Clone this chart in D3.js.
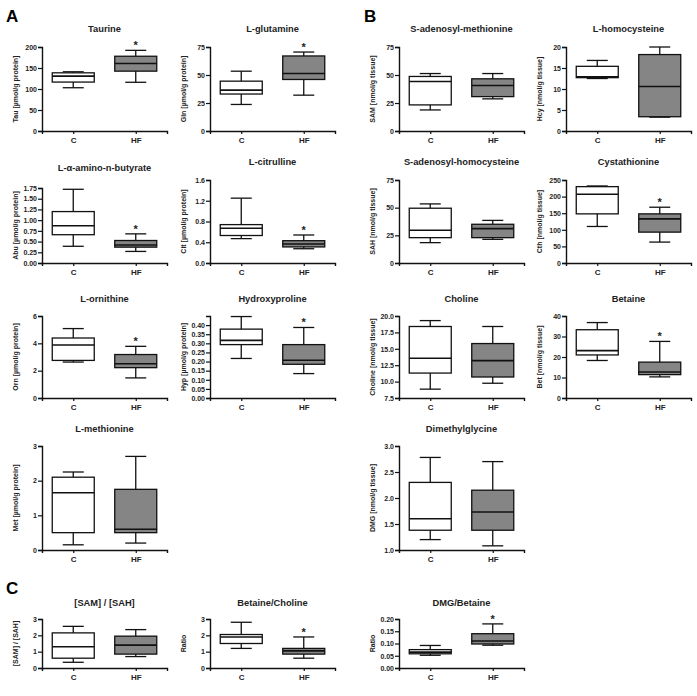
<!DOCTYPE html>
<html>
<head>
<meta charset="utf-8">
<script src="https://cdn.jsdelivr.net/npm/d3@7"></script>
<style>
  body { margin: 0; background: #fff; }
  svg text { font-family: "Liberation Sans", Arial, sans-serif; font-weight: bold; fill: #222; }
</style>
</head>
<body>
<div id="plot"></div>
<script>
// groups on every x axis
const groups = ["C", "HF"];

// panel titles and y-axis labels
const titles = ["Taurine", "L-glutamine", "S-adenosyl-methionine", "L-homocysteine",
  "L-\u03b1-amino-n-butyrate", "L-citrulline", "S-adenosyl-homocysteine", "Cystathionine",
  "L-ornithine", "Hydroxyproline", "Choline", "Betaine",
  "L-methionine", "Dimethylglycine",
  "[SAM] / [SAH]", "Betaine/Choline", "DMG/Betaine"];
const yLabels = ["Tau [\u00b5mol/g protein]", "Gln [\u00b5mol/g protein]", "SAM [nmol/g tissue]", "Hcy [nmol/g tissue]",
  "Abu [\u00b5mol/g protein]", "Cit [\u00b5mol/g protein]", "SAH [nmol/g tissue]", "Cth [nmol/g tissue]",
  "Orn [\u00b5mol/g protein]", "Hyp [\u00b5mol/g protein]", "Choline [nmol/g tissue]", "Bet [nmol/g tissue]",
  "Met [\u00b5mol/g protein]", "DMG [nmol/g tissue]",
  "[SAM] / [SAH]", "Ratio", "Ratio"];

// y domains and tick labels
const yDomains = [[0, 200], [0, 75], [0, 75], [0, 20],
  [0, 1.75], [0, 1.6], [0, 75], [0, 250],
  [0, 6], [0, 0.45], [7.5, 20], [0, 40],
  [0, 3], [1, 3],
  [0, 3], [0, 3], [0, 0.2]];
const yTicks = [[0, 50, 100, 150, 200], [0, 25, 50, 75], [0, 25, 50, 75], [0, 5, 10, 15, 20],
  [0, 0.25, 0.5, 0.75, 1, 1.25, 1.5, 1.75], [0, 0.4, 0.8, 1.2, 1.6], [0, 25, 50, 75], [0, 50, 100, 150, 200, 250],
  [0, 2, 4, 6], [0, 0.05, 0.1, 0.15, 0.2, 0.25, 0.3, 0.35, 0.4], [7.5, 10, 12.5, 15, 17.5, 20], [0, 10, 20, 30, 40],
  [0, 1, 2, 3], [1, 1.5, 2, 2.5, 3],
  [0, 1, 2, 3], [0, 1, 2, 3], [0, 0.05, 0.1, 0.15, 0.2]];
const tickFormats = ["d", "d", "d", "d",
  ".2f", ".1f", "d", "d",
  "d", ".2f", ".1f", "d",
  "d", ".1f",
  "d", "d", ".2f"];

// box stats: [min, q1, median, q3, max]
const statsC = [[103, 116.5, 130.7, 138.5, 141], [23.7, 33, 36.5, 44.5, 53.4], [18.8, 23.3, 44.2, 48.7, 51.3], [12.5, 12.7, 12.9, 15.4, 16.8],
  [0.39, 0.66, 0.87, 1.2, 1.72], [0.47, 0.53, 0.67, 0.74, 1.25], [18.4, 22.9, 29.6, 49.5, 53.4], [110, 148, 207, 230, 232],
  [2.63, 2.75, 3.88, 4.39, 5.08], [0.217, 0.293, 0.316, 0.378, 0.447], [8.85, 11.3, 13.56, 18.4, 19.3], [18.3, 21, 23.1, 33.3, 36.8],
  [0.15, 0.5, 1.65, 2.1, 2.25], [1.2, 1.38, 1.6, 2.3, 2.78],
  [0.35, 0.6, 1.3, 2.15, 2.55], [1.2, 1.5, 1.9, 2.05, 2.8], [0.052, 0.058, 0.065, 0.075, 0.092]];
const statsHF = [[116, 142.5, 160.7, 178, 192], [32, 46, 51.3, 67, 70.5], [28.7, 30.7, 40.6, 46.6, 51.3], [3.3, 3.4, 10.6, 18.2, 20],
  [0.27, 0.37, 0.42, 0.525, 0.68], [0.275, 0.31, 0.365, 0.43, 0.54], [21.4, 22.9, 31.1, 35, 38.5], [63, 93, 133, 148, 168],
  [1.47, 2.22, 2.51, 3.18, 3.78], [0.134, 0.185, 0.207, 0.293, 0.387], [9.75, 10.7, 13.2, 15.8, 18.4], [10.3, 11.4, 12.7, 17.5, 27.6],
  [0.2, 0.5, 0.6, 1.75, 2.7], [1.08, 1.38, 1.73, 2.15, 2.7],
  [0.7, 0.85, 1.4, 1.95, 2.35], [0.6, 0.85, 1.05, 1.2, 1.9], [0.093, 0.098, 0.11, 0.14, 0.18]];
// significance star over HF
const starHF = [1, 1, 0, 0, 1, 1, 0, 1, 1, 1, 0, 1, 0, 0, 0, 1, 1];

// layout
const W = 697, H = 696;
const colX = [42, 210, 399, 566];
const axisLen = 125;
const rows = [
  { title: 32, top: 47, bottom: 131 },
  { title: 165, top: 180, bottom: 263 },
  { title: 302, top: 316, bottom: 398 },
  { title: 432, top: 446, bottom: 550 },
  { title: 606, top: 619, bottom: 668 }
];
const panelCol = [0, 1, 2, 3, 0, 1, 2, 3, 0, 1, 2, 3, 0, 2, 0, 1, 2];
const panelRow = [0, 0, 0, 0, 1, 1, 1, 1, 2, 2, 2, 2, 3, 3, 4, 4, 4];
const boxW = 42;

const svg = d3.select("#plot").append("svg")
    .attr("width", W)
    .attr("height", H);

// section letters
svg.append("text").attr("x", 6).attr("y", 22).text("A").style("font-size", "17px").style("fill", "#000");
svg.append("text").attr("x", 364).attr("y", 22).text("B").style("font-size", "17px").style("fill", "#000");
svg.append("text").attr("x", 6).attr("y", 594).text("C").style("font-size", "17px").style("fill", "#000");

titles.forEach((title, i) => {
  const r = rows[panelRow[i]];
  let top = r.top, titleY = r.title;
  if (i === 4) { top = 188; titleY = 171; }
  const x0 = colX[panelCol[i]];
  const g = svg.append("g");

  const y = d3.scaleLinear().domain(yDomains[i]).range([r.bottom, top]);
  const x = d3.scalePoint().domain(groups).range([x0, x0 + axisLen]).padding(0.5);

  // y axis
  const yAxis = g.append("g")
      .attr("transform", `translate(${x0},0)`)
      .call(d3.axisLeft(y).tickValues(yTicks[i]).tickFormat(d3.format(tickFormats[i])).tickSizeOuter(0).tickSize(4).tickPadding(1));
  // x axis
  const xAxis = g.append("g")
      .attr("transform", `translate(0,${r.bottom})`)
      .call(d3.axisBottom(x).tickSizeOuter(0).tickSize(3).tickPadding(3));

  [yAxis, xAxis].forEach(a => {
    a.select(".domain").attr("stroke", "#111").attr("stroke-width", 1.4);
    a.selectAll(".tick line").attr("stroke", "#111").attr("stroke-width", 1.2);
  });
  yAxis.selectAll(".tick text").style("font-size", "7px").attr("fill", "#222");
  xAxis.selectAll(".tick text").style("font-size", "8px").attr("fill", "#222");

  // title
  g.append("text")
      .attr("x", x0 + axisLen / 2)
      .attr("y", titleY)
      .attr("text-anchor", "middle")
      .style("font-size", "9.3px")
      .text(title);

  // y label
  g.append("text")
      .attr("transform", `translate(${x0 - 24},${(top + r.bottom) / 2}) rotate(-90)`)
      .attr("text-anchor", "middle")
      .style("font-size", "7px")
      .text(yLabels[i]);

  // boxes
  [statsC[i], statsHF[i]].forEach((s, k) => {
    const cx = x(groups[k]);
    const [mn, q1, med, q3, mx] = s;
    const b = g.append("g").attr("stroke", "#111").attr("stroke-width", 1.3);
    b.append("line").attr("x1", cx).attr("x2", cx).attr("y1", y(mn)).attr("y2", y(mx));
    b.append("line").attr("x1", cx - boxW / 4).attr("x2", cx + boxW / 4).attr("y1", y(mn)).attr("y2", y(mn));
    b.append("line").attr("x1", cx - boxW / 4).attr("x2", cx + boxW / 4).attr("y1", y(mx)).attr("y2", y(mx));
    b.append("rect")
        .attr("x", cx - boxW / 2)
        .attr("y", y(q3))
        .attr("width", boxW)
        .attr("height", y(q1) - y(q3))
        .attr("fill", k === 0 ? "#fff" : "#858585");
    b.append("line").attr("x1", cx - boxW / 2).attr("x2", cx + boxW / 2).attr("y1", y(med)).attr("y2", y(med))
        .attr("stroke-width", 1.6);
    if (k === 1 && starHF[i]) {
      g.append("text")
          .attr("x", cx)
          .attr("y", y(mx) - 1)
          .attr("text-anchor", "middle")
          .style("font-size", "11px")
          .text("*");
    }
  });
});
</script>
</body>
</html>
